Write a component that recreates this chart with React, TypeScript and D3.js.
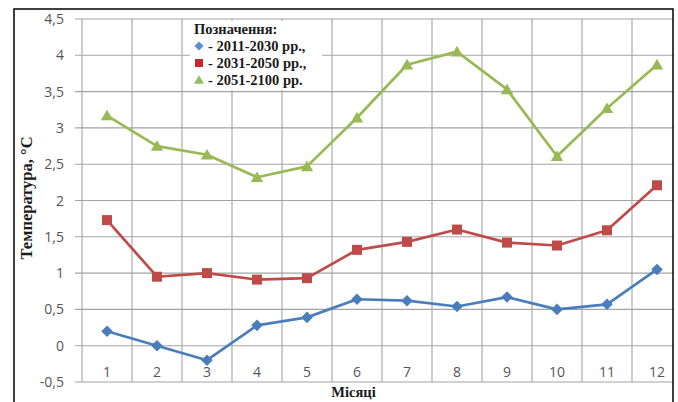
import React from "react";
import * as d3 from "d3";

const months = [1, 2, 3, 4, 5, 6, 7, 8, 9, 10, 11, 12];
const series2011 = [0.2, 0.0, -0.2, 0.28, 0.39, 0.64, 0.62, 0.54, 0.67, 0.5, 0.57, 1.05];
const series2031 = [1.73, 0.95, 1.0, 0.91, 0.93, 1.32, 1.43, 1.6, 1.42, 1.38, 1.59, 2.21];
const series2051 = [3.17, 2.75, 2.63, 2.32, 2.47, 3.14, 3.87, 4.05, 3.53, 2.61, 3.27, 3.87];
const yTicks = [-0.5, 0, 0.5, 1, 1.5, 2, 2.5, 3, 3.5, 4, 4.5];
const legendTitle = "Позначення:";
const legendLabels = ["- 2011-2030 рр.,", "- 2031-2050 рр.,", "- 2051-2100 рр."];
const yTitle = "Температура, °С";
const xTitle = "Місяці";

const W = 678;
const H = 402;
const frame = { x: 14, y: 9, r: 673 };
const plot = { left: 82, right: 682, top: 19, bottom: 382 };

const colors = ["#4a7ebb", "#be4b48", "#98b954"];
const legendColors = ["#5b8fd0", "#c9272d", "#8cc063"];
const seriesList = [series2011, series2031, series2051];

function markerPath(kind: number, s: number): string {
  if (kind === 0) {
    return `M0,${-s}L${s},0L0,${s}L${-s},0Z`;
  }
  if (kind === 1) {
    return `M${-s},${-s}H${s}V${s}H${-s}Z`;
  }
  return `M0,${-s * 1.05}L${s * 1.1},${s * 0.85}L${-s * 1.1},${s * 0.85}Z`;
}

export default function App() {
  const x = d3
    .scaleBand<number>()
    .domain(months)
    .range([plot.left, plot.right])
    .paddingInner(0)
    .paddingOuter(0);
  const y = d3.scaleLinear().domain([-0.5, 4.5]).range([plot.bottom, plot.top]);
  const cx = (m: number) => (x(m) as number) + x.bandwidth() / 2;
  const fmt = (v: number) => String(v).replace(".", ",");

  const line = d3
    .line<number>()
    .x((_, i) => cx(months[i]))
    .y((v) => y(v));

  const boundaries = months.map((m) => x(m) as number).concat([plot.right]);

  const tickFont = "'Open Sans', 'Liberation Sans', sans-serif";
  const serif = "'Liberation Serif', 'DejaVu Serif', serif";

  return (
    <svg
      width={W}
      height={H}
      style={{ position: "absolute", left: 0, top: 0, display: "block", background: "#fff" }}
    >
      <defs>
        <clipPath id="frameClip">
          <rect x={frame.x} y={frame.y} width={frame.r - frame.x} height={H} />
        </clipPath>
      </defs>
      <rect x={0} y={0} width={W} height={H} fill="#fff" />
      <g clipPath="url(#frameClip)">
        {yTicks.map((t) => (
          <line
            key={"h" + t}
            x1={plot.left - 7}
            x2={plot.right}
            y1={y(t)}
            y2={y(t)}
            stroke="#a3a3a3"
            strokeWidth={1.1}
          />
        ))}
        {boundaries.map((b, i) => (
          <line
            key={"v" + i}
            x1={b}
            x2={b}
            y1={plot.top}
            y2={plot.bottom}
            stroke="#a3a3a3"
            strokeWidth={1.1}
          />
        ))}
        <rect x={190} y={21} width={132} height={69} fill="#fff" />
        {yTicks.map((t) => (
          <text
            key={"yl" + t}
            x={64}
            y={y(t) + 5}
            textAnchor="end"
            fontFamily={tickFont}
            fontSize={14}
            fill="#555"
          >
            {fmt(t)}
          </text>
        ))}
        {months.map((m) => (
          <text
            key={"xl" + m}
            x={cx(m)}
            y={377}
            textAnchor="middle"
            fontFamily={tickFont}
            fontSize={14}
            fill="#555"
          >
            {m}
          </text>
        ))}
        {seriesList.map((s, k) => (
          <g key={"s" + k}>
            <path d={line(s) || ""} fill="none" stroke={colors[k]} strokeWidth={2.7} strokeLinejoin="round" />
            {s.map((v, i) => (
              <path
                key={i}
                d={markerPath(k, k === 0 ? 5.8 : k === 1 ? 5 : 5.6)}
                transform={`translate(${cx(months[i])},${y(v)})`}
                fill={colors[k]}
              />
            ))}
          </g>
        ))}
        <text x={194} y={34} fontFamily={serif} fontWeight="bold" fontSize={14.5} fill="#1a1a1a">
          {legendTitle}
        </text>
        {legendLabels.map((lab, i) => (
          <g key={"lg" + i}>
            <path
              d={markerPath(i, i === 0 ? 4.5 : i === 1 ? 4 : 4.5)}
              transform={`translate(199,${46 + i * 17})`}
              fill={legendColors[i]}
            />
            <text
              x={208}
              y={51 + i * 17}
              fontFamily={serif}
              fontWeight="bold"
              fontSize={14.5}
              fill="#1a1a1a"
            >
              {lab}
            </text>
          </g>
        ))}
        <text
          transform="translate(31.5,198) rotate(-90)"
          textAnchor="middle"
          fontFamily={serif}
          fontWeight="bold"
          fontSize={16.5}
          fill="#1a1a1a"
        >
          {yTitle}
        </text>
        <text
          x={353.5}
          y={397}
          textAnchor="middle"
          fontFamily={serif}
          fontWeight="bold"
          fontSize={14.5}
          fill="#1a1a1a"
        >
          {xTitle}
        </text>
      </g>
      <path
        d={`M${frame.x},${H + 5}V${frame.y}H${frame.r}V${H + 5}`}
        fill="none"
        stroke="#000"
        strokeWidth={1.5}
      />
    </svg>
  );
}
